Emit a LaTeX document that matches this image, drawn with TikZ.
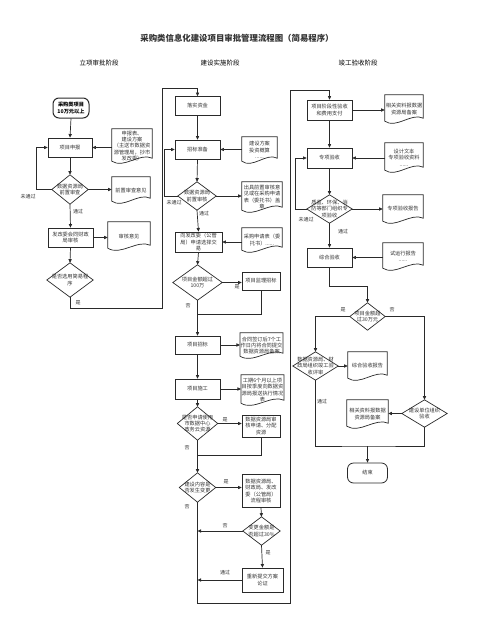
\documentclass[tikz,border=0pt]{standalone}
\usepackage{fontspec}
\setmainfont{Noto Sans CJK SC}
\usetikzlibrary{arrows.meta,calc}
\definecolor{ink}{HTML}{2A2A2A}
\definecolor{txt}{HTML}{333333}
\tikzset{
  ln/.style={draw=ink, line width=0.7pt},
  arr/.style={ln, -{Triangle[length=3.6pt,width=3.2pt]}},
  body/.style={font=\fontsize{5.2}{6.4}\selectfont, text=txt, align=center, inner sep=0.5pt},
  box/.style 2 args={body, rectangle, draw=ink, line width=0.7pt, minimum width=#1pt, minimum height=#2pt},
  term/.style 2 args={body, rectangle, rounded corners=6pt, draw=ink, line width=0.8pt, minimum width=#1pt, minimum height=#2pt},
  dia/.style 2 args={body, rectangle, draw=none, minimum width=#1pt, minimum height=#2pt},
  docn/.style 2 args={body, rectangle, draw=none, minimum width=#1pt, minimum height=#2pt},
  lab/.style={font=\fontsize{5}{6}\selectfont, text=txt, inner sep=0pt},
  head/.style={font=\fontsize{6.5}{8}\selectfont, text=black, inner sep=0pt},
}
\newcommand{\diaout}[1]{\draw[ln] (#1.north) -- (#1.east) -- (#1.south) -- (#1.west) -- cycle;}
\newcommand{\docout}[1]{\draw[ln] let \p1=(#1.south west), \p2=(#1.north east), \n1={\x2-\x1} in
  (\x1,\y2) -- (\x2,\y2) -- (\x2,\y1+5pt) .. controls (\x2-0.3*\n1,\y1+11pt) and (\x1+0.3*\n1,\y1-6pt) .. (\x1,\y1+2pt) -- cycle;}
\begin{document}
\begin{tikzpicture}[x=1pt,y=-1pt]
\fill[white] (0,0) rectangle (495,637);
\useasboundingbox (0,0) rectangle (495,637);

% titles
\node[font=\fontsize{8.4}{10}\selectfont\bfseries, text=txt, inner sep=0] (title) at (237,38) {采购类信息化建设项目审批管理流程图（简易程序）};
\node[head] (h1) at (99,63) {立项审批阶段};
\node[head] (h2) at (220,63) {建设实施阶段};
\node[head] (h3) at (358,63) {竣工验收阶段};

% ---------- left column ----------
\node[term={36}{20}, font=\fontsize{5.2}{6.4}\selectfont\bfseries, text=black, line width=1pt] (s0) at (71,108) {采购类项目\\10万元以上};
\node[box={44}{19}] (p1) at (70,147.5) {项目申报};
\node[docn={40}{34}] (doc1) at (132,146) {申报表、\\建设方案\\（主送市数据资\\源管理局，抄市\\发改委）};
\node[dia={36}{29}] (d1) at (70,189.5) {数据资源局\\前置审查};
\node[docn={38}{26}] (doc2) at (131,190) {前置审查意见};
\node[box={45}{19}] (p2) at (70.5,237.5) {发改委会同财政\\局审核};
\node[docn={42}{28}] (doc3) at (129,236) {审核意见};
\node[dia={46}{34}] (d2) at (70,280) {是否选用简易程\\序};

% ---------- middle column ----------
\node[box={45}{19}] (m1) at (197.5,106) {落实资金};
\node[box={45}{19}] (m2) at (197.5,149.5) {招标准备};
\node[docn={35}{26}] (mdoc1) at (259.5,150) {建设方案\\投资概算\\......};
\node[dia={38}{28}] (md1) at (197,196) {数据资源局\\前置审核};
\node[docn={40}{30}] (mdoc2) at (262,197) {出具前置审核意\\见或在采购申请\\表（委托书）盖\\章};
\node[box={47}{20}] (m3) at (198.5,242) {向发改委（公管\\局）申请选择交\\易};
\node[docn={40}{24}] (mdoc3) at (262,240) {采购申请表（委\\托书）......};
\node[dia={49}{35}] (md2) at (197.5,282.5) {项目金额超过\\100万};
\node[box={38}{18}] (m4) at (261,281) {项目监理招标};
\node[box={45}{18}] (m5) at (197.5,345) {项目招标};
\node[docn={37}{25}] (mdoc4) at (261.5,345.5) {合同签订后7个工\\作日内将合同提交\\数据资源局备案};
\node[box={45}{20}] (m6) at (197.5,389) {项目施工};
\node[docn={39}{30}] (mdoc5) at (262.5,390) {工期6个月以上项\\目按季度向数据资\\源局报送执行情况\\表};
\node[dia={40}{33}] (md3) at (197.5,423.5) {是否申请使用\\市数据中心\\政务云资源};
\node[box={38}{22}] (m7) at (261,426) {数据资源局审\\核申请、分配\\资源};
\node[dia={36}{29}] (md4) at (197.5,487.5) {建设内容是\\否发生变更};
\node[box={38}{33}] (m8) at (261,491) {数据资源局、\\财政局、发改\\委（公管局）\\流程审核};
\node[dia={37}{28}] (md5) at (261.5,531) {变更金额是\\否超过30\%};
\node[box={41}{24}] (m9) at (262.5,580) {重新提交方案\\论证};

% ---------- right column ----------
\node[box={45}{20}] (r1) at (329.5,110) {项目阶段性验收\\和费用支付};
\node[docn={38}{28}] (rdoc1) at (404,109) {相关资料报数据\\资源局备案};
\node[box={45}{20}] (r2) at (329.5,158) {专项验收};
\node[docn={38}{29}] (rdoc2) at (404,157.5) {设计文本\\专项验收资料\\......};
\node[dia={45}{28}] (rd1) at (329.5,209) {质监、环保、消\\防等部门组织专\\项验收};
\node[docn={40}{28}] (rdoc3) at (403,209) {专项验收报告};
\node[box={45}{19}] (r3) at (329.5,257.5) {综合验收};
\node[docn={40}{27}] (rdoc4) at (403,256.5) {试运行报告\\......};
\node[dia={35}{27}] (rd2) at (367.5,316.5) {项目金额超\\过30万元};
\node[dia={45}{28}] (rd3) at (315.5,366) {数据资源局、财\\政局组织竣工验\\收评审};
\node[docn={39}{28}] (rdoc5) at (367.5,366) {综合验收报告};
\node[dia={45}{27}] (rd4) at (424.5,413.5) {建设单位组织\\验收};
\node[docn={41}{28}] (rdoc6) at (367.5,414) {相关资料报数据\\资源局备案};
\node[term={40}{20}] (r4) at (367.5,473) {结束};

% outlines
\foreach \q in {d1,d2,md1,md2,md3,md4,md5,rd1,rd2,rd3,rd4} {\diaout{\q}}
\foreach \q in {doc1,doc2,doc3,mdoc1,mdoc2,mdoc3,mdoc4,mdoc5,rdoc1,rdoc2,rdoc3,rdoc4,rdoc5,rdoc6} {\docout{\q}}

% bend coordinates
\coordinate (b1) at (162,308);
\coordinate (b2) at (162,88);
\coordinate (j1) at (197.5,314);
\coordinate (j2) at (197.5,455);
\coordinate (b3) at (290,603);
\coordinate (b4) at (290,90);
\coordinate (c1) at (329.5,286);
\coordinate (c2) at (367.5,446);

% ---------- left connectors ----------
\draw[arr] (s0.south) -- (p1.north);
\draw[arr] (doc1.west |- p1.east) -- (p1.east);
\draw[arr] (p1.south) -- (d1.north);
\draw[arr] (d1.west) -- ++(-15,0) |- (p1.west);
\node[lab] (l1) at (28,197) {未通过};
\draw[arr] (d1.east) -- (d1.east -| doc2.west);
\draw[arr] (d1.south) -- (p2.north);
\node[lab] (l2) at (78,212) {通过};
\draw[arr] (p2.east) -- (p2.east -| doc3.west);
\draw[arr] (p2.south) -- (d2.north);
\draw[arr] (d2.south) |- (b1) -- (b2) -| (m1.north);
\node[lab] (l3) at (78,303) {是};

% ---------- middle connectors ----------
\draw[arr] (m1.south) -- (m2.north);
\draw[arr] (mdoc1.west |- m2.east) -- (m2.east);
\draw[arr] (m2.south) -- (md1.north);
\draw[arr] (md1.west) -- ++(-13,0) |- (m2.west);
\node[lab] (l4) at (174,203) {未通过};
\draw[arr] (md1.east) -- (md1.east -| mdoc2.west);
\draw[arr] (md1.south) -- (m3.north);
\node[lab] (l5) at (204,214) {通过};
\draw[arr] (mdoc3.west |- m3.east) -- (m3.east);
\draw[arr] (m3.south) -- (md2.north);
\draw[arr] (md2.east) -- (md2.east -| m4.west);
\node[lab] (l6) at (237,287) {是};
\draw[arr] (md2.south) -- (m5.north);
\node[lab] (l7) at (188,306) {否};
\draw[ln] (m4.south) |- (j1);
\draw[arr] (m5.east) -- (m5.east -| mdoc4.west);
\draw[arr] (m5.south) -- (m6.north);
\draw[arr] (m6.east) -- (m6.east -| mdoc5.west);
\draw[arr] (m6.south) -- (md3.north);
\draw[arr] (md3.east) -- (md3.east -| m7.west);
\node[lab] (l8) at (225,420) {是};
\draw[arr] (md3.south) -- (md4.north);
\node[lab] (l9) at (187,448) {否};
\draw[ln] (m7.south) |- (j2);
\draw[arr] (md4.east) -- (md4.east -| m8.west);
\node[lab] (l10) at (226,482) {是};
\draw[arr] (m8.south) -- (md5.north);
\draw[arr] (md5.west) -- (md5.west -| md4.south);
\node[lab] (l11) at (225,526) {否};
\draw[arr] (md5.south) -- (m9.north);
\node[lab] (l12) at (268,553) {是};
\draw[arr] (m9.west) -- (m9.west -| md4.south);
\node[lab] (l13) at (225,573) {通过};
\draw[arr] (md4.south) |- (b3) -- (b4) -| (r1.north);
\node[lab] (l14) at (187,507) {否};

% ---------- right connectors ----------
\draw[arr] (r1.east) -- (r1.east -| rdoc1.west);
\draw[arr] (r1.south) -- (r2.north);
\draw[arr] (rdoc2.west |- r2.east) -- (r2.east);
\draw[arr] (r2.south) -- (rd1.north);
\draw[arr] (rd1.west) -- ++(-11.5,0) |- (r2.west);
\node[lab] (l15) at (306,220) {未通过};
\draw[arr] (rd1.east) -- (rd1.east -| rdoc3.west);
\draw[arr] (rd1.south) -- (r3.north);
\node[lab] (l16) at (343,232) {通过};
\draw[arr] (rdoc4.west |- r3.east) -- (r3.east);
\draw[arr] (r3.south) -- (c1) -| (rd2.north);
\draw[arr] (rd2.west) -| (rd3.north);
\node[lab] (l17) at (343,310) {是};
\draw[arr] (rd2.east) -| (rd4.north);
\node[lab] (l18) at (392,310) {否};
\draw[arr] (rd3.east) -- (rd3.east -| rdoc5.west);
\draw[arr] (rd4.west) -- (rd4.west -| rdoc6.east);
\draw[ln] (rd3.south) |- (c2) -| (rd4.south);
\draw[arr] (c2) -- (r4.north);
\node[lab] (l19) at (322,402) {通过};
\end{tikzpicture}
\end{document}
